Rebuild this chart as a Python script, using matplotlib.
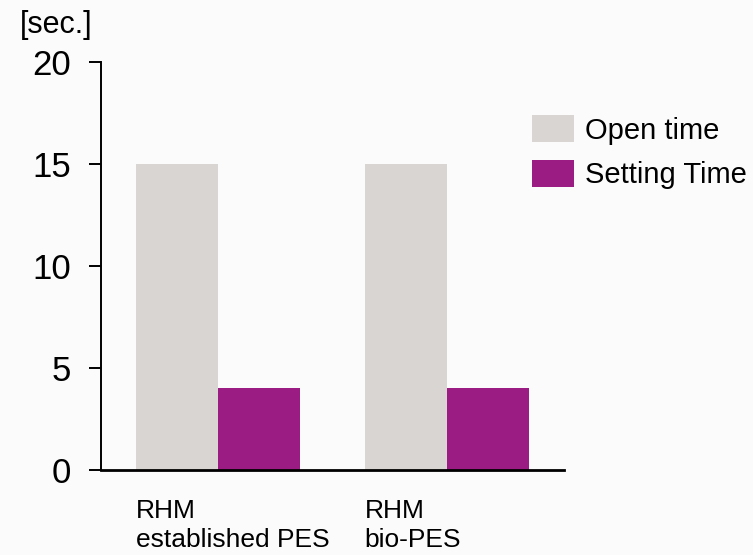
import matplotlib.pyplot as plt
import numpy as np

plt.rcParams['font.family'] = ['Liberation Sans', 'DejaVu Sans']

groups = ["RHM\nestablished PES", "RHM\nbio-PES"]
open_time = [15, 15]
setting_time = [4, 4]
yticks = [0, 5, 10, 15, 20]

grey = "#d8d5d3"
purple = "#9b1c82"
bg = "#fbfbfb"

fig = plt.figure(figsize=(7.53, 5.55), dpi=100, facecolor=bg)
ax = fig.add_axes([101 / 753, 85 / 555, 463 / 753, 408 / 555], facecolor=bg)

x = np.arange(len(groups))
w = 0.36
ax.bar(x - w, open_time, w, align="edge", color=grey, label="Open time")
ax.bar(x, setting_time, w, align="edge", color=purple, label="Setting Time")

ax.set_xlim(-0.511, 1.511)
ax.set_ylim(0, 20)
ax.set_yticks(yticks)
ax.tick_params(axis="y", length=8.6, width=1.4, pad=13, labelsize=25)
ax.set_xticks(x - w)
ax.set_xticklabels(groups, ha="left", fontsize=19)
ax.tick_params(axis="x", length=0, pad=21)
for lab in ax.get_xticklabels():
    lab.set_linespacing(1.25)

for s in ["top", "right"]:
    ax.spines[s].set_visible(False)
ax.spines["left"].set_linewidth(1.4)
ax.spines["bottom"].set_linewidth(2.0)

fig.text(20 / 753, 1 - 33 / 555, "[sec.]", fontsize=22, ha="left", va="baseline")

ax.legend(loc="upper left", bbox_to_anchor=(532 / 753, 1 - 115 / 555),
          bbox_transform=fig.transFigure, frameon=False, fontsize=21,
          handlelength=1.45, handleheight=1.07, handletextpad=0.38,
          labelspacing=0.52, borderpad=0, borderaxespad=0)

fig.savefig("out.png", dpi=100, facecolor=bg)
